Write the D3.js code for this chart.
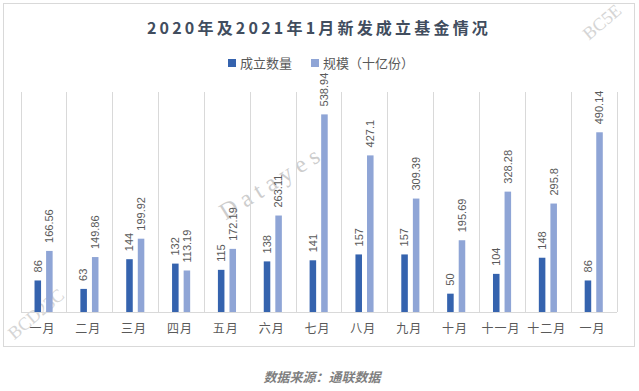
<!DOCTYPE html>
<html>
<head>
<meta charset="utf-8">
<script src="https://cdn.jsdelivr.net/npm/d3@7/dist/d3.min.js"></script>
<style>
  html, body { margin: 0; padding: 0; background: #fff; }
  svg { display: block; }
</style>
</head>
<body>
<div id="chart"></div>
<script>
const title = "2020年及2021年1月新发成立基金情况";
const categories = ["一月","二月","三月","四月","五月","六月","七月","八月","九月","十月","十一月","十二月","一月"];
const seriesNames = ["成立数量", "规模（十亿份）"];
const countValues = [86, 63, 144, 132, 115, 138, 141, 157, 157, 50, 104, 148, 86];
const sizeValues = [166.56, 149.86, 199.92, 113.19, 172.19, 263.11, 538.94, 427.1, 309.39, 195.69, 328.28, 295.8, 490.14];
const sizeLabels = ["166.56","149.86","199.92","113.19","172.19","263.11","538.94","427.1","309.39","195.69","328.28","295.8","490.14"];
const source = "数据来源：通联数据";

const W = 639, H = 391;
const colors = ["#3563ae", "#8fa5d6"];
const cjk = "'Noto Sans CJK SC', 'Noto Sans', sans-serif";
const latin = "'Liberation Sans', Arial, sans-serif";

const svg = d3.select("#chart").append("svg")
  .attr("width", W).attr("height", H);

svg.append("rect").attr("width", W).attr("height", H).attr("fill", "#fff");

// chart frame
svg.append("rect")
  .attr("x", 3.5).attr("y", 3.5).attr("width", 631).attr("height", 343)
  .attr("fill", "none").attr("stroke", "#d9d9d9").attr("stroke-width", 1);

// watermarks
const wm = svg.append("g").attr("fill", "#c8c8c8").attr("font-family", "'Liberation Serif', 'DejaVu Serif', serif");
wm.append("text").attr("transform", "translate(272,182) rotate(-32)")
  .attr("text-anchor", "middle").attr("dominant-baseline", "central")
  .attr("font-size", 24).attr("letter-spacing", 6).attr("opacity", 0.9).text("Datayes");
wm.append("text").attr("transform", "translate(36,314) rotate(-40)")
  .attr("text-anchor", "middle").attr("dominant-baseline", "central")
  .attr("font-size", 18).attr("opacity", 0.75).text("BCD23C");
wm.append("text").attr("transform", "translate(602,22) rotate(-40)")
  .attr("text-anchor", "middle").attr("dominant-baseline", "central")
  .attr("font-size", 18).attr("opacity", 0.75).text("BC5E");

// title
svg.append("text")
  .attr("x", 319).attr("y", 34)
  .attr("text-anchor", "middle")
  .attr("font-family", cjk).attr("font-weight", "bold")
  .attr("font-size", 16).attr("letter-spacing", 3.2)
  .attr("fill", "#414d5e")
  .text(title);

// scales
const x = d3.scaleBand().domain(d3.range(categories.length)).range([21, 617]).paddingInner(0).paddingOuter(0);
const bw = x.bandwidth();
const xs = d3.scaleBand().domain([0, 1]).range([bw * 0.295, bw * 0.69]).paddingInner(0.435).paddingOuter(0);
const y = d3.scaleLinear().domain([0, 600]).range([312, 92]);

// vertical category separators
const gridX = d3.range(categories.length + 1).map(i => i < categories.length ? x(i) : x(categories.length - 1) + bw);
svg.append("g").selectAll("line").data(gridX).join("line")
  .attr("x1", d => d).attr("x2", d => d)
  .attr("y1", y(600)).attr("y2", y(0))
  .attr("stroke", "#d9d9d9").attr("stroke-width", 1)
  .attr("shape-rendering", "crispEdges");

// bars
const data = categories.map((c, i) => ({ i, vals: [countValues[i], sizeValues[i]], labels: [String(countValues[i]), sizeLabels[i]] }));
const groups = svg.append("g").selectAll("g").data(data).join("g")
  .attr("transform", d => `translate(${x(d.i)},0)`);

groups.selectAll("rect").data(d => d.vals.map((v, k) => ({ v, k }))).join("rect")
  .attr("x", d => xs(d.k)).attr("width", xs.bandwidth())
  .attr("y", d => y(d.v)).attr("height", d => y(0) - y(d.v))
  .attr("fill", d => colors[d.k]);

groups.selectAll("text").data(d => d.vals.map((v, k) => ({ v, k, label: d.labels[k] }))).join("text")
  .attr("transform", d => `translate(${xs(d.k) + xs.bandwidth() / 2},${y(d.v) - 8}) rotate(-90)`)
  .attr("dy", "0.35em")
  .attr("text-anchor", "start")
  .attr("font-family", latin).attr("font-size", 11)
  .attr("fill", "#595959")
  .text(d => d.label);

// x axis
const xAxis = d3.axisBottom(x).tickSize(0).tickPadding(0).tickFormat(i => categories[i]);
const ax = svg.append("g").attr("transform", `translate(-1.5,${y(0)})`).call(xAxis);
ax.select(".domain").attr("stroke", "#d9d9d9").attr("d", `M${21 + 1.5},0.5H${617 + 1.5}`);
ax.selectAll(".tick text")
  .attr("y", 17).attr("dy", "0.35em")
  .attr("font-family", cjk).attr("font-size", 12).attr("letter-spacing", 1)
  .attr("fill", "#595959");

// legend
const legendItems = [
  { name: seriesNames[0], color: colors[0], sx: 228, tx: 240 },
  { name: seriesNames[1], color: colors[1], sx: 311, tx: 323 }
];
const lg = svg.append("g").selectAll("g").data(legendItems).join("g");
lg.append("rect").attr("x", d => d.sx).attr("y", 59).attr("width", 8).attr("height", 8).attr("fill", d => d.color);
lg.append("text").attr("x", d => d.tx).attr("y", 63).attr("dy", "0.35em")
  .attr("font-family", cjk).attr("font-size", 13).attr("fill", "#595959")
  .text(d => d.name);

// source
svg.append("text")
  .attr("x", 322).attr("y", 377).attr("dy", "0.35em")
  .attr("text-anchor", "middle")
  .attr("font-family", cjk).attr("font-size", 13).attr("font-weight", "bold").attr("font-style", "italic")
  .attr("fill", "#7f7f7f")
  .text(source);
</script>
</body>
</html>
